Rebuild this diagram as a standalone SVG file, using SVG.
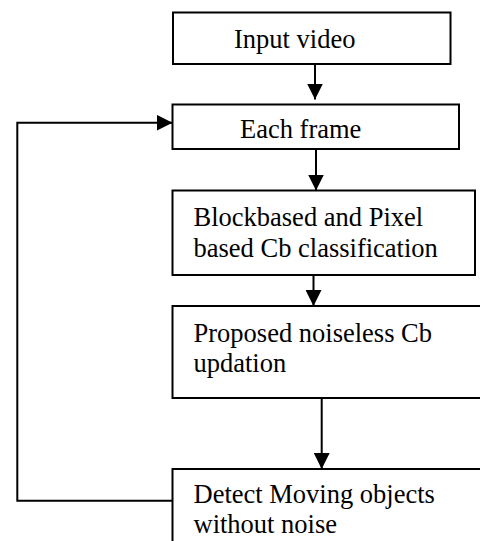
<svg xmlns="http://www.w3.org/2000/svg" width="480" height="541" viewBox="0 0 480 541">
<style>
.box{fill:#fff;stroke:#000;stroke-width:2}
.t{font-family:"Liberation Serif","Times New Roman",serif;font-size:26.5px;fill:#000}
.c{fill:none;stroke:#000;stroke-width:2}
</style>
<defs>
<marker id="ah" markerUnits="userSpaceOnUse" markerWidth="16" markerHeight="16" viewBox="0 0 15 15" refX="15" refY="7.5" orient="auto">
<path d="M0,0 L15,7.5 L0,15 Z" fill="#000"/>
</marker>
</defs>
<rect width="480" height="541" fill="#fff"/>
<g id="n1"><rect class="box" x="173" y="12.5" width="277.5" height="51.5"/><text class="t" x="234" y="48">Input video</text></g>
<g id="n2"><rect class="box" x="172.5" y="104.5" width="286.5" height="44.5"/><text class="t" x="240" y="138">Each frame</text></g>
<g id="n3"><rect class="box" x="172.5" y="190.5" width="302.5" height="84.5"/><text class="t" x="193.5" y="225.5">Blockbased and Pixel</text><text class="t" x="193.5" y="256.5">based Cb classification</text></g>
<g id="n4"><rect class="box" x="172.5" y="306" width="320" height="92"/><text class="t" x="193.5" y="341.5">Proposed noiseless Cb</text><text class="t" x="193.5" y="371.5">updation</text></g>
<g id="n5"><rect class="box" x="172.5" y="469" width="320" height="100"/><text class="t" x="193.5" y="503">Detect Moving objects</text><text class="t" x="193.5" y="533">without noise</text></g>
<g id="connectors">
<path class="c" d="M315,64 V99.5" marker-end="url(#ah)"/>
<path class="c" d="M316,149 V190.5" marker-end="url(#ah)"/>
<path class="c" d="M313.5,275 V306" marker-end="url(#ah)"/>
<path class="c" d="M321.7,398 V469" marker-end="url(#ah)"/>
<path class="c" d="M172.5,500.7 H17.3 V122.7 H172.5" marker-end="url(#ah)"/>
</g>
</svg>
